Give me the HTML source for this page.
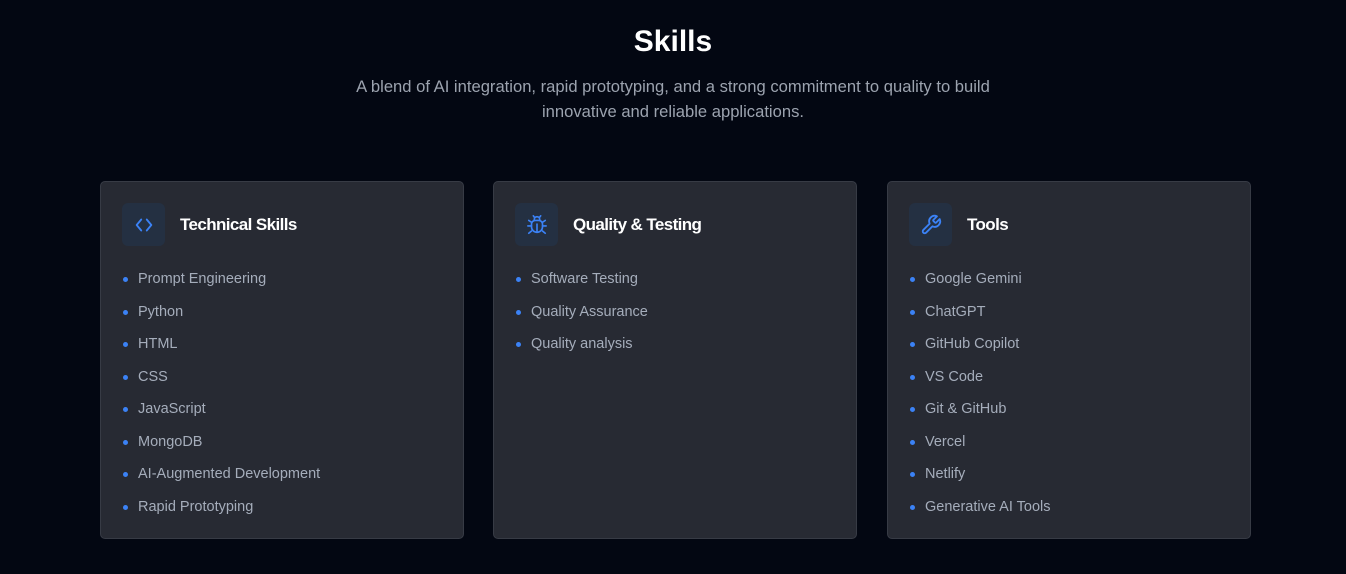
<!DOCTYPE html>
<html><head><style>
body{margin:0;width:1346px;height:574px;background:#030712;font-family:"Liberation Sans",sans-serif;overflow:hidden;position:relative}
h2{position:absolute;top:22px;left:0;width:1346px;text-align:center;margin:0;color:#fff;font-size:30px;font-weight:bold;line-height:40px}
.sub{position:absolute;top:74px;left:333px;width:680px;text-align:center;color:#9ca3af;font-size:16.6px;line-height:25px;margin:0}
.card{position:absolute;top:181px;width:364px;height:358px;background:#272a33;border:1px solid #373b45;border-radius:5px;box-sizing:border-box}
.ic{position:absolute;left:21px;top:21px;width:43px;height:43px;background:#243042;border-radius:6px;display:flex;align-items:center;justify-content:center}
.t{position:absolute;left:79px;top:31px;color:#fff;font-size:17px;font-weight:bold;line-height:24px;letter-spacing:-0.6px}
ul{position:absolute;left:21px;top:87px;margin:0;padding:0;list-style:none}
li{color:#a5adbb;font-size:14.5px;line-height:20px;height:32.5px;padding-left:16px;position:relative}
li:before{content:"";position:absolute;left:1px;top:8px;width:5px;height:5px;border-radius:50%;background:#3b82f6}
</style></head><body>
<h2>Skills</h2>
<p class="sub">A blend of AI integration, rapid prototyping, and a strong commitment to quality to build innovative and reliable applications.</p>
<div class="card" style="left:100px">
<div class="ic"><svg width="22" height="22" viewBox="0 0 24 24" fill="none" stroke="#3b82f6" stroke-width="2" stroke-linecap="round" stroke-linejoin="round"><polyline points="9 6 4 12 9 18"/><polyline points="15 6 20 12 15 18"/></svg></div>
<div class="t">Technical Skills</div>
<ul><li>Prompt Engineering</li><li>Python</li><li>HTML</li><li>CSS</li><li>JavaScript</li><li>MongoDB</li><li>AI-Augmented Development</li><li>Rapid Prototyping</li></ul>
</div>
<div class="card" style="left:493px">
<div class="ic"><svg width="22" height="22" viewBox="0 0 24 24" fill="none" stroke="#3b82f6" stroke-width="1.8" stroke-linecap="round"><path d="M8 2l1.5 2M16 2l-1.5 2"/><path d="M9 7V6a3 3 0 0 1 6 0v1"/><path d="M12 20c-3.3 0-6-2.7-6-6v-3a4 4 0 0 1 4-4h4a4 4 0 0 1 4 4v3c0 3.3-2.7 6-6 6z"/><path d="M12 20v-9M6 13H2M22 13h-4M3 21l3-2.5M21 21l-3-2.5M3 7l3 2M21 7l-3 2"/></svg></div>
<div class="t">Quality &amp; Testing</div>
<ul><li>Software Testing</li><li>Quality Assurance</li><li>Quality analysis</li></ul>
</div>
<div class="card" style="left:887px">
<div class="ic"><svg width="22" height="22" viewBox="0 0 24 24" fill="none" stroke="#3b82f6" stroke-width="2" stroke-linecap="round" stroke-linejoin="round"><path d="M14.7 6.3a1 1 0 0 0 0 1.4l1.6 1.6a1 1 0 0 0 1.4 0l3.770-3.77a6 6 0 0 1-7.94 7.940l-6.91 6.91a2.12 2.12 0 0 1-3-3l6.91-6.91a6 6 0 0 1 7.94-7.94l-3.76 3.76z"/></svg></div>
<div class="t">Tools</div>
<ul><li>Google Gemini</li><li>ChatGPT</li><li>GitHub Copilot</li><li>VS Code</li><li>Git &amp; GitHub</li><li>Vercel</li><li>Netlify</li><li>Generative AI Tools</li></ul>
</div>
</body></html>
